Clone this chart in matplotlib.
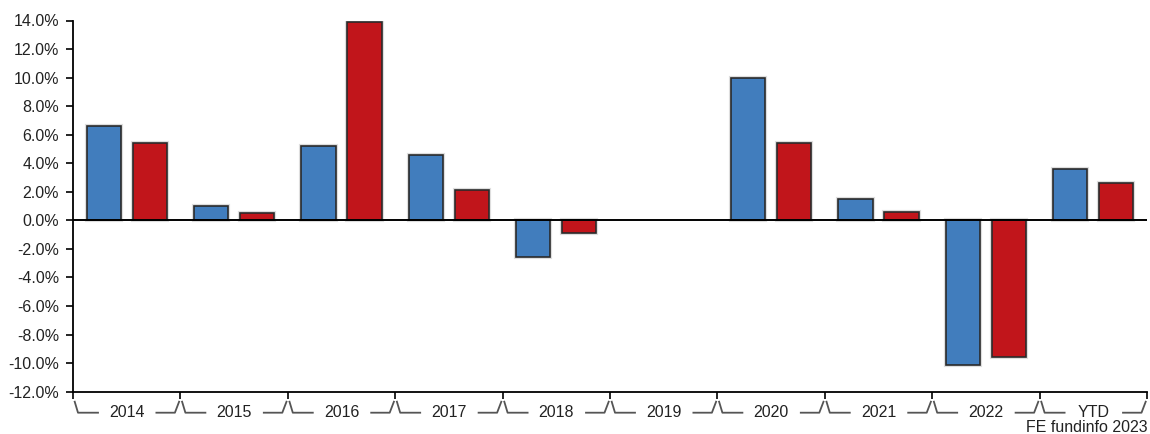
import matplotlib
matplotlib.use("Agg")
import matplotlib.pyplot as plt
import matplotlib.patheffects as pe
from matplotlib.transforms import blended_transform_factory
import numpy as np

categories = ["2014", "2015", "2016", "2017", "2018", "2019", "2020", "2021", "2022", "YTD"]
fund = [6.6, 1.0, 5.2, 4.6, -2.6, 0.0, 10.0, 1.5, -10.1, 3.6]
sector = [5.4, 0.5, 13.9, 2.1, -0.9, 0.0, 5.4, 0.6, -9.6, 2.6]
yticks = [-12, -10, -8, -6, -4, -2, 0, 2, 4, 6, 8, 10, 12, 14]
credit = "FE fundinfo 2023"

plt.rcParams['font.family'] = ['Liberation Sans', 'DejaVu Sans']

W, H = 1150, 434
fig = plt.figure(figsize=(W / 100, H / 100), dpi=100)
ax_l, ax_r, ax_t, ax_b = 73, 1147, 20.5, 391.7
ax = fig.add_axes([ax_l / W, 1 - ax_b / H, (ax_r - ax_l) / W, (ax_b - ax_t) / H])

x = np.arange(len(categories))
bw = 0.318
off = 0.214
blue = "#417DBD"
red = "#C1151B"
shadow = [pe.Stroke(linewidth=3.0, foreground="#c8c8c8", alpha=0.6), pe.Normal()]
b1 = ax.bar(x - off, fund, bw, color=blue, edgecolor="#2a2a2a", linewidth=1.2, zorder=3)
b2 = ax.bar(x + off, sector, bw, color=red, edgecolor="#2a2a2a", linewidth=1.2, zorder=3)
for bars, vals in ((b1, fund), (b2, sector)):
    for r, v in zip(bars, vals):
        if v == 0:
            r.set_visible(False)
        else:
            r.set_path_effects(shadow)

ax.axhline(0, color="black", linewidth=1.4, zorder=4)
ax.set_xlim(-0.5, len(categories) - 0.5)
ax.set_ylim(-12, 14)
ax.set_yticks(yticks)
ax.set_yticklabels([f"{v:.1f}%" for v in yticks], fontsize=11.5, color="#222222")
ax.set_xticks(np.arange(len(categories) + 1) - 0.5)
ax.set_xticklabels([])
ax.tick_params(axis='both', direction='out', length=5, width=1.2, color="black")
ax.tick_params(axis='y', pad=5)
for s in ("top", "right"):
    ax.spines[s].set_visible(False)
for s in ("left", "bottom"):
    ax.spines[s].set_linewidth(1.3)
    ax.spines[s].set_color("black")

# category brackets
axh = ax_b - ax_t
cw = (ax_r - ax_l) / len(categories)
tr = blended_transform_factory(ax.transData, ax.transAxes)
y_top = -10 / axh
y_bot = -21 / axh
for i, c in enumerate(categories):
    lb = i - 0.5
    rb = i + 0.5
    px = lambda p: p / cw
    ax.plot([lb + px(1.7), lb + px(5), lb + px(25)], [y_top, y_bot, y_bot],
            transform=tr, color="#555555", linewidth=1.3, clip_on=False)
    ax.plot([rb - px(24), rb - px(5.5), rb - px(1.3)], [y_bot, y_bot, y_top],
            transform=tr, color="#555555", linewidth=1.3, clip_on=False)
    ax.text(i, y_bot, c, transform=tr, ha="center", va="center", fontsize=11.5, color="#222222")

fig.text(1148 / W, 1 - 427 / H, credit, ha="right", va="center", fontsize=11.5, color="#222222")

fig.savefig("out.png", dpi=100)
